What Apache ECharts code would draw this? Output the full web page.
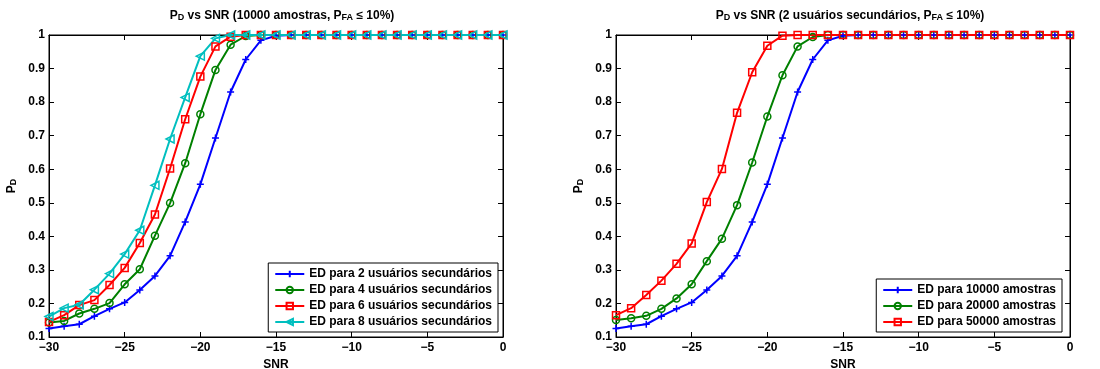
<!DOCTYPE html>
<html>
<head>
<meta charset="utf-8">
<script src="https://cdn.jsdelivr.net/npm/echarts@6/dist/echarts.min.js"></script>
<style>
  html, body { margin: 0; padding: 0; background: #fff; }
  #chart { width: 1100px; height: 369px; }
</style>
</head>
<body>
<div id="chart"></div>
<script>
// SNR axis values (dB)
const snr = [-30, -29, -28, -27, -26, -25, -24, -23, -22, -21, -20, -19, -18, -17, -16, -15,
  -14, -13, -12, -11, -10, -9, -8, -7, -6, -5, -4, -3, -2, -1, 0];

// left plot: 10000 amostras, different number of users
const ed2users = [0.125, 0.132, 0.138, 0.162, 0.184, 0.203, 0.240, 0.282, 0.342, 0.443, 0.555, 0.693, 0.830, 0.927, 0.984, 0.998,
  1, 1, 1, 1, 1, 1, 1, 1, 1, 1, 1, 1, 1, 1, 1];
const ed4users = [0.143, 0.148, 0.170, 0.184, 0.201, 0.257, 0.302, 0.402, 0.499, 0.618, 0.764, 0.896, 0.971, 0.997,
  1, 1, 1, 1, 1, 1, 1, 1, 1, 1, 1, 1, 1, 1, 1, 1, 1];
const ed6users = [0.145, 0.165, 0.195, 0.210, 0.255, 0.306, 0.380, 0.465, 0.602, 0.749, 0.876, 0.966, 0.995,
  1, 1, 1, 1, 1, 1, 1, 1, 1, 1, 1, 1, 1, 1, 1, 1, 1, 1];
const ed8users = [0.161, 0.186, 0.196, 0.241, 0.289, 0.347, 0.418, 0.552, 0.690, 0.814, 0.937, 0.990,
  1, 1, 1, 1, 1, 1, 1, 1, 1, 1, 1, 1, 1, 1, 1, 1, 1, 1, 1];

// right plot: 2 users, different sample counts
const ed10k = ed2users;
const ed20k = [0.151, 0.156, 0.163, 0.184, 0.215, 0.257, 0.326, 0.393, 0.493, 0.620, 0.757, 0.880, 0.966, 0.994,
  1, 1, 1, 1, 1, 1, 1, 1, 1, 1, 1, 1, 1, 1, 1, 1, 1];
const ed50k = [0.165, 0.186, 0.225, 0.268, 0.318, 0.379, 0.502, 0.601, 0.768, 0.889, 0.968, 0.998,
  1, 1, 1, 1, 1, 1, 1, 1, 1, 1, 1, 1, 1, 1, 1, 1, 1, 1, 1];

const BLUE = "#0000ff", GREEN = "#008000", RED = "#ff0000", CYAN = "#00bfbf";
const FONT = "'Liberation Sans', Arial, sans-serif";

const PLUS = "path://M5,0V10M0,5H10";
const TRI_LEFT = "path://M0,5L10,0L10,10Z";

const pairs = (ys) => snr.map((x, i) => [x, ys[i]]);

function mkSeries(name, ys, color, symbol, size, axis) {
	return {
		name: name,
		type: "line",
		xAxisIndex: axis,
		yAxisIndex: axis,
		data: pairs(ys),
		color: color,
		symbol: symbol,
		symbolSize: size,
		clip: false,
		animation: false,
		lineStyle: { color: color, width: 2 },
		itemStyle: { color: "transparent", borderColor: color, borderWidth: 1.5 }
	};
}

function titleText(mid) {
	return "{a|P}{s|D}{a| vs SNR (" + mid + ", P}{s|FA}{a| \u2264 10%)}";
}

const titleRich = {
	a: { fontFamily: FONT, fontSize: 12, fontWeight: "bold", color: "#000", lineHeight: 14, verticalAlign: "bottom" },
	s: { fontFamily: FONT, fontSize: 9, fontWeight: "bold", color: "#000", lineHeight: 10, padding: [8, 0, 0, 0], verticalAlign: "bottom" }
};

const tickFmt = (v) => String(v).replace("-", "\u2212");

const axisLine = { show: true, onZero: false, lineStyle: { color: "#000", width: 1 } };
const axisTick = { show: true, inside: true, length: 5, lineStyle: { color: "#000" } };

function xAxes(gridIndex) {
	return [
		{
			type: "value", gridIndex: gridIndex, min: -30, max: 0, interval: 5, position: "bottom",
			name: "SNR", nameLocation: "middle", nameGap: 19,
			nameTextStyle: { fontFamily: FONT, fontSize: 12, fontWeight: "bold", color: "#000" },
			axisLine: axisLine,
			axisTick: axisTick,
			axisLabel: { fontFamily: FONT, fontSize: 12, fontWeight: "bold", color: "#000", margin: 5, formatter: tickFmt },
			splitLine: { show: false }
		},
		{
			type: "value", gridIndex: gridIndex, min: -30, max: 0, interval: 5, position: "top",
			axisLine: axisLine,
			axisTick: axisTick,
			axisLabel: { show: false },
			splitLine: { show: false }
		}
	];
}

function yAxes(gridIndex) {
	return [
		{
			type: "value", gridIndex: gridIndex, min: 0.1, max: 1, interval: 0.1, position: "left",
			name: "{a|P}{s|D}", nameLocation: "middle", nameGap: 31, nameRotate: 90,
			nameTextStyle: { rich: titleRich },
			axisLine: axisLine,
			axisTick: axisTick,
			axisLabel: { fontFamily: FONT, fontSize: 12, fontWeight: "bold", color: "#000", margin: 4,
				formatter: (v) => String(Math.round(v * 10) / 10) },
			splitLine: { show: false }
		},
		{
			type: "value", gridIndex: gridIndex, min: 0.1, max: 1, interval: 0.1, position: "right",
			axisLine: axisLine,
			axisTick: axisTick,
			axisLabel: { show: false },
			splitLine: { show: false }
		}
	];
}

const legendBase = {
	orient: "vertical",
	itemWidth: 29,
	itemHeight: 8,
	itemGap: 0,
	padding: [3, 6, 2, 6],
	backgroundColor: "#fff",
	borderColor: "#000",
	borderWidth: 1,
	borderRadius: 0,
	textStyle: { fontFamily: FONT, fontSize: 12, fontWeight: "bold", color: "#000", lineHeight: 16 }
};

const leftNames = ["ED para 2 usuários secundários", "ED para 4 usuários secundários",
	"ED para 6 usuários secundários", "ED para 8 usuários secundários"];
const rightNames = ["ED para 10000 amostras", "ED para 20000 amostras", "ED para 50000 amostras"];

const gridBase = { top: 35, width: 454, height: 302, show: true, borderColor: "#000", borderWidth: 1,
	backgroundColor: "#fff", outerBoundsMode: "none", containLabel: false };

const option = {
	backgroundColor: "#fff",
	animation: false,
	title: [
		{ text: titleText("10000 amostras"), left: 277, top: 3, textAlign: "center", textStyle: { rich: titleRich } },
		{ text: titleText("2 usuários secundários"), left: 845, top: 3, textAlign: "center", textStyle: { rich: titleRich } }
	],
	grid: [
		Object.assign({}, gridBase, { left: 49 }),
		Object.assign({}, gridBase, { left: 616 })
	],
	xAxis: xAxes(0).concat(xAxes(1)),
	yAxis: yAxes(0).concat(yAxes(1)),
	legend: [
		Object.assign({}, legendBase, { data: leftNames, right: 602, bottom: 37 }),
		Object.assign({}, legendBase, { data: rightNames, right: 38, bottom: 37 })
	],
	series: [
		mkSeries(leftNames[0], ed2users, BLUE, PLUS, 7, 0),
		mkSeries(leftNames[1], ed4users, GREEN, "circle", 7, 0),
		mkSeries(leftNames[2], ed6users, RED, "rect", 7, 0),
		mkSeries(leftNames[3], ed8users, CYAN, TRI_LEFT, 8, 0),
		mkSeries(rightNames[0], ed10k, BLUE, PLUS, 7, 2),
		mkSeries(rightNames[1], ed20k, GREEN, "circle", 7, 2),
		mkSeries(rightNames[2], ed50k, RED, "rect", 7, 2)
	]
};

const chart = echarts.init(document.getElementById("chart"), null, { renderer: "canvas" });
chart.setOption(option);
</script>
</body>
</html>
